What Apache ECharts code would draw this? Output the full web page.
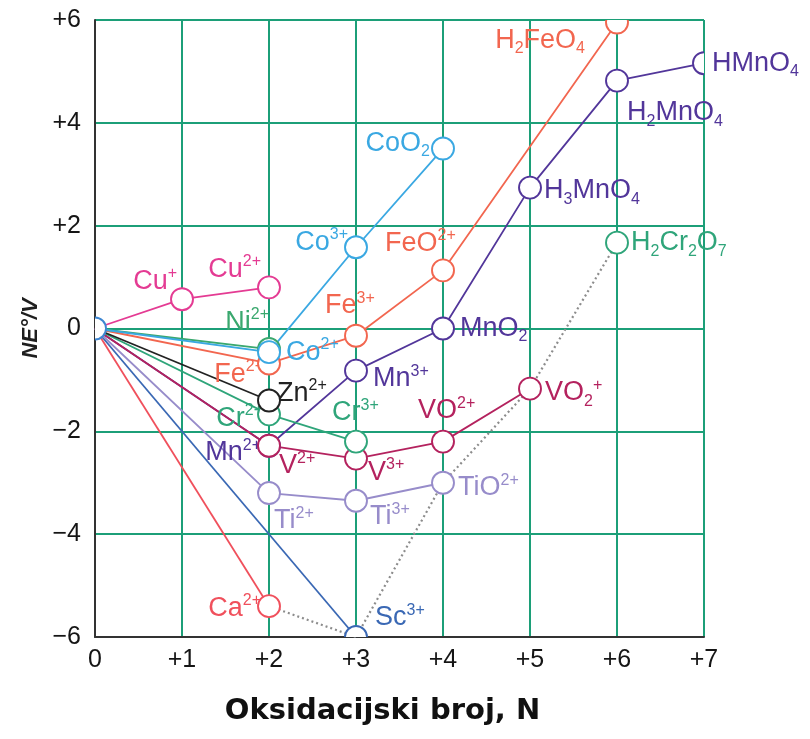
<!DOCTYPE html>
<html>
<head>
<meta charset="utf-8">
<script src="https://cdn.jsdelivr.net/npm/echarts@6/dist/echarts.min.js"></script>
<style>
  html, body { margin: 0; padding: 0; background: #fff; }
  #chart { width: 810px; height: 739px; }
</style>
</head>
<body>
<div id="chart"></div>
<script>
// Frost diagram of the first-row transition metals: oxidation number N vs NE°/V.
// Species markup: {sub|..} = subscript, {sup|..} = superscript.

const xTicks = [0, 1, 2, 3, 4, 5, 6, 7];
const yTicks = [-6, -4, -2, 0, 2, 4, 6];

const caN = [0, 2];
const caE = [0, -5.4];
const caSpecies = ['', 'Ca{sup|2+}'];

const scN = [0, 3];
const scE = [0, -6.0];
const scSpecies = ['', 'Sc{sup|3+}'];

const tiN = [0, 2, 3, 4];
const tiE = [0, -3.2, -3.35, -3.0];
const tiSpecies = ['', 'Ti{sup|2+}', 'Ti{sup|3+}', 'TiO{sup|2+}'];

const mnN = [0, 2, 3, 4, 5, 6, 7];
const mnE = [0, -2.28, -0.82, 0, 2.74, 4.82, 5.16];
const mnSpecies = ['', 'Mn{sup|2+}', 'Mn{sup|3+}', 'MnO{sub|2}', 'H{sub|3}MnO{sub|4}', 'H{sub|2}MnO{sub|4}', 'HMnO{sub|4}'];

const vN = [0, 2, 3, 4, 5];
const vE = [0, -2.28, -2.53, -2.2, -1.17];
const vSpecies = ['', 'V{sup|2+}', 'V{sup|3+}', 'VO{sup|2+}', 'VO{sub|2}{sup|+}'];

const crN = [0, 2, 3];
const crE = [0, -1.67, -2.2];
const crSpecies = ['', 'Cr{sup|2+}', 'Cr{sup|3+}'];

const dichromateN = [6];
const dichromateE = [1.67];
const dichromateSpecies = ['H{sub|2}Cr{sub|2}O{sub|7}'];

const znN = [0, 2];
const znE = [0, -1.4];
const znSpecies = ['', 'Zn{sup|2+}'];

const feN = [0, 2, 3, 4, 6];
const feE = [0, -0.68, -0.14, 1.13, 5.95];
const feSpecies = ['', 'Fe{sup|2+}', 'Fe{sup|3+}', 'FeO{sup|2+}', 'H{sub|2}FeO{sub|4}'];

const niN = [0, 2];
const niE = [0, -0.4];
const niSpecies = ['', 'Ni{sup|2+}'];

const coN = [0, 2, 3, 4];
const coE = [0, -0.46, 1.58, 3.5];
const coSpecies = ['', 'Co{sup|2+}', 'Co{sup|3+}', 'CoO{sub|2}'];

const cuN = [0, 1, 2];
const cuE = [0, 0.57, 0.8];
const cuSpecies = ['', 'Cu{sup|+}', 'Cu{sup|2+}'];

// highest oxidation states, joined by a dotted line
const maxStateN = [2, 3, 4, 5, 6];
const maxStateE = [-5.4, -6.0, -3.0, -1.17, 1.67];

// drawing order = stacking order of the circles
const elements = [
  { n: caN, e: caE, s: caSpecies, color: '#f0505c' },
  { n: scN, e: scE, s: scSpecies, color: '#3a68b4' },
  { n: tiN, e: tiE, s: tiSpecies, color: '#978cca' },
  { n: mnN, e: mnE, s: mnSpecies, color: '#52369a' },
  { n: vN, e: vE, s: vSpecies, color: '#b4225e' },
  { n: crN, e: crE, s: crSpecies, color: '#2fa57a' },
  { n: dichromateN, e: dichromateE, s: dichromateSpecies, color: '#2fa57a' },
  { n: znN, e: znE, s: znSpecies, color: '#222222' },
  { n: feN, e: feE, s: feSpecies, color: '#f2664f' },
  { n: niN, e: niE, s: niSpecies, color: '#3aa86e' },
  { n: coN, e: coE, s: coSpecies, color: '#3aa8e2' },
  { n: cuN, e: cuE, s: cuSpecies, color: '#e43b93' }
];
const originColor = '#3d86d2';

// label placement relative to the point: [align, dx, dy]
const labelPlace = {
  'Ca{sup|2+}': ['right', -8, 2],
  'Sc{sup|3+}': ['left', 19, -19],
  'Ti{sup|2+}': ['left', 5, 28],
  'Ti{sup|3+}': ['left', 14, 16],
  'TiO{sup|2+}': ['left', 15, 5],
  'V{sup|2+}': ['left', 10, 20],
  'V{sup|3+}': ['left', 12, 14],
  'VO{sup|2+}': ['left', -25, -31],
  'VO{sub|2}{sup|+}': ['left', 15, 4],
  'Cr{sup|2+}': ['right', -6, 4],
  'Cr{sup|3+}': ['left', -24, -29],
  'H{sub|2}Cr{sub|2}O{sub|7}': ['left', 14, 0],
  'Mn{sup|2+}': ['right', -8, 7],
  'Mn{sup|3+}': ['left', 17, 8],
  'MnO{sub|2}': ['left', 17, 0],
  'H{sub|3}MnO{sub|4}': ['left', 14, 3],
  'H{sub|2}MnO{sub|4}': ['left', 10, 32],
  'HMnO{sub|4}': ['left', 8, 0],
  'Fe{sup|2+}': ['right', -5, 11],
  'Fe{sup|3+}': ['left', -31, -30],
  'FeO{sup|2+}': ['left', -58, -27],
  'H{sub|2}FeO{sub|4}': ['right', -32, 18],
  'Co{sup|2+}': ['left', 17, 0],
  'Co{sup|3+}': ['right', -8, -5],
  'CoO{sub|2}': ['right', -13, -5],
  'Ni{sup|2+}': ['right', 0, -27],
  'Cu{sup|+}': ['right', -5, -18],
  'Cu{sup|2+}': ['right', -8, -18],
  'Zn{sup|2+}': ['left', 8, -7]
};

const richStyle = {
  sup: { fontSize: 16, padding: [0, 0, 15, 0] },
  sub: { fontSize: 16, padding: [17, 0, 0, 0] }
};

const series = [];

elements.forEach(el => {
  const data = el.n.map((n, i) => {
    const item = { value: [n, el.e[i]] };
    const text = el.s[i];
    if (text) {
      const pl = labelPlace[text] || ['left', 12, 0];
      item.label = {
        show: true,
        position: 'inside',
        formatter: text,
        align: pl[0],
        verticalAlign: 'middle',
        offset: [pl[1], pl[2]]
      };
    } else {
      item.label = { show: false };
    }
    return item;
  });
  series.push({
    type: 'line',
    z: 2,
    data: data,
    symbol: 'circle',
    symbolSize: 0,
    showSymbol: true,
    silent: true,
    lineStyle: { color: el.color, width: 1.8 },
    itemStyle: { color: el.color },
    label: {
      color: el.color,
      fontFamily: 'Liberation Sans, Arial, sans-serif',
      fontSize: 27,
      rich: richStyle
    }
  });
});

series.push({
  type: 'line',
  z: 2,
  data: maxStateN.map((n, i) => [n, maxStateE[i]]),
  symbol: 'none',
  silent: true,
  lineStyle: { color: '#8c8c8c', width: 2.2, type: [2, 3] }
});

// open circles for every species, clipped to the plot area
const markerData = [[0, 0, -1]];
elements.forEach((el, k) => {
  el.n.forEach((n, i) => { if (el.s[i]) markerData.push([n, el.e[i], k]); });
});

series.push({
  type: 'custom',
  z: 4,
  silent: true,
  data: markerData,
  encode: { x: 0, y: 1 },
  renderItem: function (params, api) {
    const p = api.coord([api.value(0), api.value(1)]);
    const k = api.value(2);
    const c = params.coordSys;
    return {
      type: 'circle',
      shape: { cx: p[0], cy: p[1], r: 11 },
      style: { fill: '#ffffff', stroke: k < 0 ? originColor : elements[k].color, lineWidth: 1.9 },
      clipPath: { type: 'rect', shape: { x: c.x, y: c.y, width: c.width, height: c.height } }
    };
  }
});

const gridGreen = '#1c9f78';
const signed = v => v > 0 ? '+' + v : (v < 0 ? '\u2212' + Math.abs(v) : '0');

const chart = echarts.init(document.getElementById('chart'), null, { renderer: 'canvas' });
chart.setOption({
  animation: false,
  backgroundColor: '#ffffff',
  grid: { left: 95, right: 106, top: 20, bottom: 102 },
  xAxis: {
    type: 'value',
    min: xTicks[0],
    max: xTicks[xTicks.length - 1],
    interval: 1,
    axisLine: { show: true, onZero: false, lineStyle: { color: '#333', width: 2 } },
    axisTick: { show: false },
    axisLabel: { formatter: signed, fontSize: 25, color: '#151515', margin: 11, fontFamily: 'Liberation Sans, Arial, sans-serif' },
    splitLine: { show: true, lineStyle: { color: gridGreen, width: 2 } },
    name: 'Oksidacijski broj, N',
    nameLocation: 'middle',
    nameGap: 60,
    nameTextStyle: { fontSize: 29, fontWeight: 'bold', color: '#111', fontFamily: 'DejaVu Sans, sans-serif', padding: [0, 34, 0, 0] }
  },
  yAxis: {
    type: 'value',
    min: yTicks[0],
    max: yTicks[yTicks.length - 1],
    interval: 2,
    axisLine: { show: true, onZero: false, lineStyle: { color: '#333', width: 2 } },
    axisTick: { show: false },
    axisLabel: { formatter: signed, fontSize: 25, color: '#151515', margin: 14, fontFamily: 'Liberation Sans, Arial, sans-serif' },
    splitLine: { show: true, lineStyle: { color: gridGreen, width: 2 } },
    name: 'NE°/V',
    nameLocation: 'middle',
    nameGap: 50,
    nameRotate: 90,
    nameTextStyle: { fontSize: 22, fontStyle: 'italic', fontWeight: 'bold', color: '#1e1e1e', fontFamily: 'Liberation Sans, Arial, sans-serif' }
  },
  series: series
});
</script>
</body>
</html>
